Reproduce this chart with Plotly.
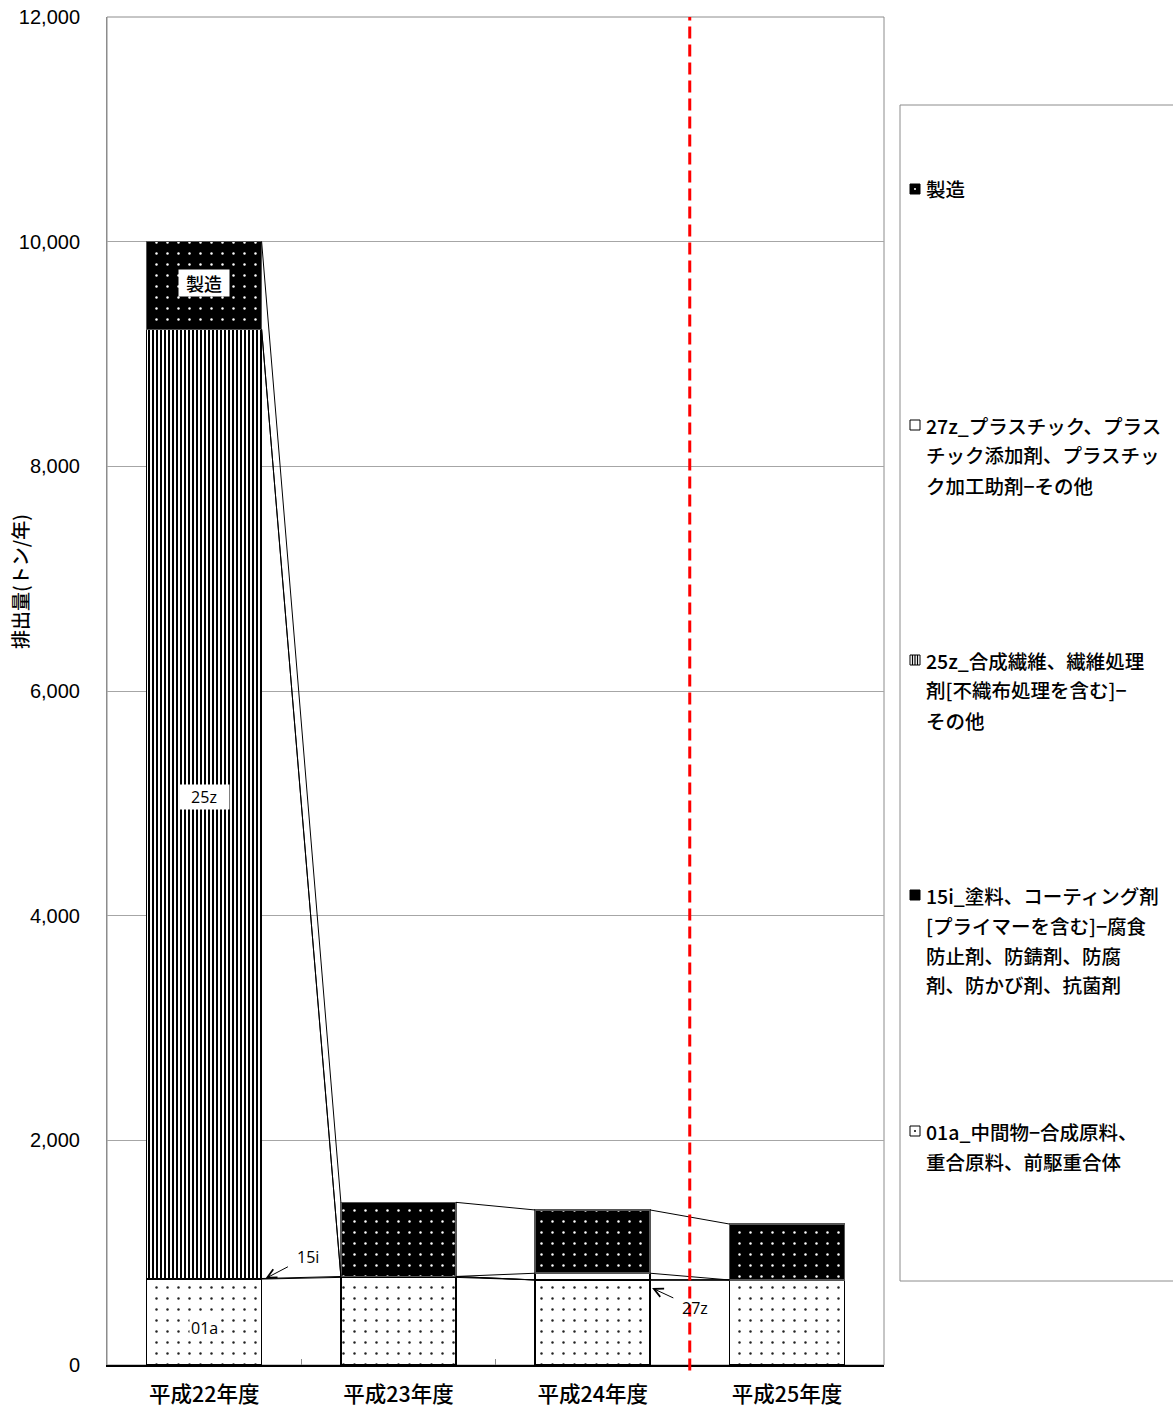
import plotly.graph_objects as go

# ---------------- data ----------------
categories = ["平成22年度", "平成23年度", "平成24年度", "平成25年度"]
s01a = [765, 780, 757, 757]
s15i = [5, 8, 0, 0]
s25z = [8450, 0, 0, 0]
s27z = [0, 0, 60, 0]
s_manu = [780, 660, 563, 498]

legend_texts = {
    "製造": ["製造"],
    "27z": ["27z_プラスチック、プラス", "チック添加剤、プラスチッ", "ク加工助剤−その他"],
    "25z": ["25z_合成繊維、繊維処理", "剤[不織布処理を含む]−", "その他"],
    "15i": ["15i_塗料、コーティング剤", "[プライマーを含む]−腐食", "防止剤、防錆剤、防腐", "剤、防かび剤、抗菌剤"],
    "01a": ["01a_中間物−合成原料、", "重合原料、前駆重合体"],
}
y_title = "排出量(トン/年)"

# ---------------- geometry ----------------
W, H = 1173, 1409
L, R, T, B = 107, 884, 17, 1365
def pxx(px):
    return (px - L) / (R - L)
def pxy(py):
    return (B - py) / (B - T)

xpos = list(range(len(categories)))
bw = 0.592

CJK = "Noto Sans CJK JP"
NUM = "Liberation Sans, Noto Sans CJK JP"

fig = go.Figure()

line_style = dict(color="black", width=1.5)
series = [
    ("01a", s01a, dict(color="white", line=line_style,
                       pattern=dict(shape=".", fgcolor="#222222", bgcolor="white",
                                    size=11, solidity=0.04, fillmode="replace"))),
    ("15i", s15i, dict(color="black", line=line_style)),
    ("25z", s25z, dict(color="white", line=line_style,
                       pattern=dict(shape="|", fgcolor="black", bgcolor="white",
                                    size=4, solidity=0.5, fillmode="replace"))),
    ("27z", s27z, dict(color="white", line=line_style)),
    ("製造", s_manu, dict(color="black", line=dict(color="#555555", width=1.5),
                        pattern=dict(shape=".", fgcolor="white", bgcolor="black",
                                     size=11, solidity=0.04, fillmode="replace"))),
]
for name, vals, mk in series:
    fig.add_trace(go.Bar(x=xpos, y=vals, name=name, width=bw, marker=mk,
                         showlegend=False))

# series lines connecting stacked tops
cum = [0] * len(categories)
lx, ly = [], []
for name, vals, mk in series:
    cum = [c + v for c, v in zip(cum, vals)]
    for i in range(len(categories) - 1):
        lx += [xpos[i] + bw / 2, xpos[i + 1] - bw / 2, None]
        ly += [cum[i], cum[i + 1], None]
fig.add_trace(go.Scatter(x=lx, y=ly, mode="lines", line=dict(color="black", width=1),
                         showlegend=False, hoverinfo="skip"))

shapes = []
# plot frame
shapes.append(dict(type="rect", xref="paper", yref="paper", x0=0, x1=1, y0=0, y1=1,
                   line=dict(color="#8c8c8c", width=1), layer="below"))
# red dashed divider between 平成24 and 平成25
shapes.append(dict(type="line", xref="x", yref="paper", x0=2.5, x1=2.5, y0=-0.004, y1=1,
                   line=dict(color="red", width=3, dash="12px,6px")))
# legend box
shapes.append(dict(type="rect", xref="paper", yref="paper",
                   x0=pxx(900), x1=pxx(1180), y0=pxy(1281), y1=pxy(105),
                   line=dict(color="#8c8c8c", width=1), fillcolor="white", layer="below"))

annotations = []
# y-axis title
annotations.append(dict(xref="paper", yref="paper", x=pxx(20), y=pxy(582), text=y_title,
                        textangle=-90, showarrow=False, xanchor="center", yanchor="middle",
                        font=dict(family=CJK, size=19, color="black", weight=500)))
# in-bar labels
annotations.append(dict(x=0, y=9630, text="製造", showarrow=False, bgcolor="white",
                        width=50, height=26,
                        font=dict(family=CJK, size=18, color="black", weight=500), borderpad=0))
annotations.append(dict(x=0, y=5060, text="25z", showarrow=False, bgcolor="white",
                        width=50, height=24,
                        font=dict(family="Open Sans", size=16, color="black"), borderpad=0))
annotations.append(dict(x=0, y=330, text="01a", showarrow=False, bgcolor="white",
                        font=dict(family="Open Sans", size=16, color="black"), borderpad=1))
# arrow labels
annotations.append(dict(x=bw / 2 + 0.02, y=s01a[0] + s15i[0], text="15i", showarrow=True,
                        arrowhead=5, arrowsize=1.8, arrowwidth=1, arrowcolor="black",
                        ax=42, ay=-22, standoff=0, startstandoff=8,
                        font=dict(family="Open Sans", size=16, color="black")))
annotations.append(dict(x=2 + bw / 2 + 0.01, y=685, text="27z",
                        showarrow=True, arrowhead=5, arrowsize=1.8, arrowwidth=1,
                        arrowcolor="black", ax=43, ay=20, standoff=0, startstandoff=8,
                        font=dict(family="Open Sans", size=16, color="black")))

# legend entries
legend_y = {"製造": 189, "27z": 425, "25z": 660, "15i": 895, "01a": 1131}
line_h = 30
for key, lines in legend_texts.items():
    y0 = legend_y[key]
    for j, t in enumerate(lines):
        annotations.append(dict(xref="paper", yref="paper", x=pxx(924), y=pxy(y0 + j * line_h),
                                xanchor="left", yanchor="middle", text=t, showarrow=False,
                                font=dict(family=CJK, size=19.5, color="black", weight=500)))
    # symbol
    sx0, sx1 = pxx(910), pxx(920)
    sy0, sy1 = pxy(y0 + 5), pxy(y0 - 5)
    if key in ("製造", "15i"):
        shapes.append(dict(type="rect", xref="paper", yref="paper", x0=sx0, x1=sx1, y0=sy0, y1=sy1,
                           line=dict(color="black", width=1), fillcolor="black"))
        if key == "製造":
            shapes.append(dict(type="circle", xref="paper", yref="paper",
                               x0=pxx(914), x1=pxx(916), y0=pxy(y0 + 1), y1=pxy(y0 - 1),
                               line=dict(width=0), fillcolor="white"))
    else:
        shapes.append(dict(type="rect", xref="paper", yref="paper", x0=sx0, x1=sx1, y0=sy0, y1=sy1,
                           line=dict(color="black", width=1), fillcolor="white"))
        if key == "25z":
            for xx in (912.5, 915, 917.5):
                shapes.append(dict(type="line", xref="paper", yref="paper",
                                   x0=pxx(xx), x1=pxx(xx), y0=sy0, y1=sy1,
                                   line=dict(color="black", width=1.2)))
        if key == "01a":
            shapes.append(dict(type="circle", xref="paper", yref="paper",
                               x0=pxx(914), x1=pxx(916), y0=pxy(y0 + 1), y1=pxy(y0 - 1),
                               line=dict(width=0), fillcolor="black"))

fig.update_layout(
    width=W, height=H,
    margin=dict(l=L, r=W - R, t=T, b=H - B, pad=0, autoexpand=False),
    paper_bgcolor="white", plot_bgcolor="white",
    barmode="stack", bargap=0.4,
    showlegend=False,
    shapes=shapes, annotations=annotations,
    font=dict(family=NUM, size=20, color="black"),
    xaxis=dict(range=[-0.5, 3.5], tickmode="array", tickvals=xpos, ticktext=categories,
               tickfont=dict(family=CJK, size=21.5, color="black", weight=500),
               showgrid=False, zeroline=False, showline=True, linecolor="black", linewidth=1.5,
               ticks="", ticklabelstandoff=9, automargin=False,
               minor=dict(tickmode="array", tickvals=[0.5, 1.5, 2.5], ticks="inside",
                          ticklen=6, tickcolor="#8c8c8c", tickwidth=1, showgrid=False)),
    yaxis=dict(range=[0, 12000], tickmode="linear", tick0=0, dtick=2000, tickformat=",",
               tickfont=dict(family=NUM, size=20, color="black"),
               showgrid=True, gridcolor="#a6a6a6", gridwidth=1, zeroline=False,
               showline=True, linecolor="#8c8c8c", linewidth=1, ticks="",
               ticklabelstandoff=22, automargin=False),
)

fig.write_html("out.html")
